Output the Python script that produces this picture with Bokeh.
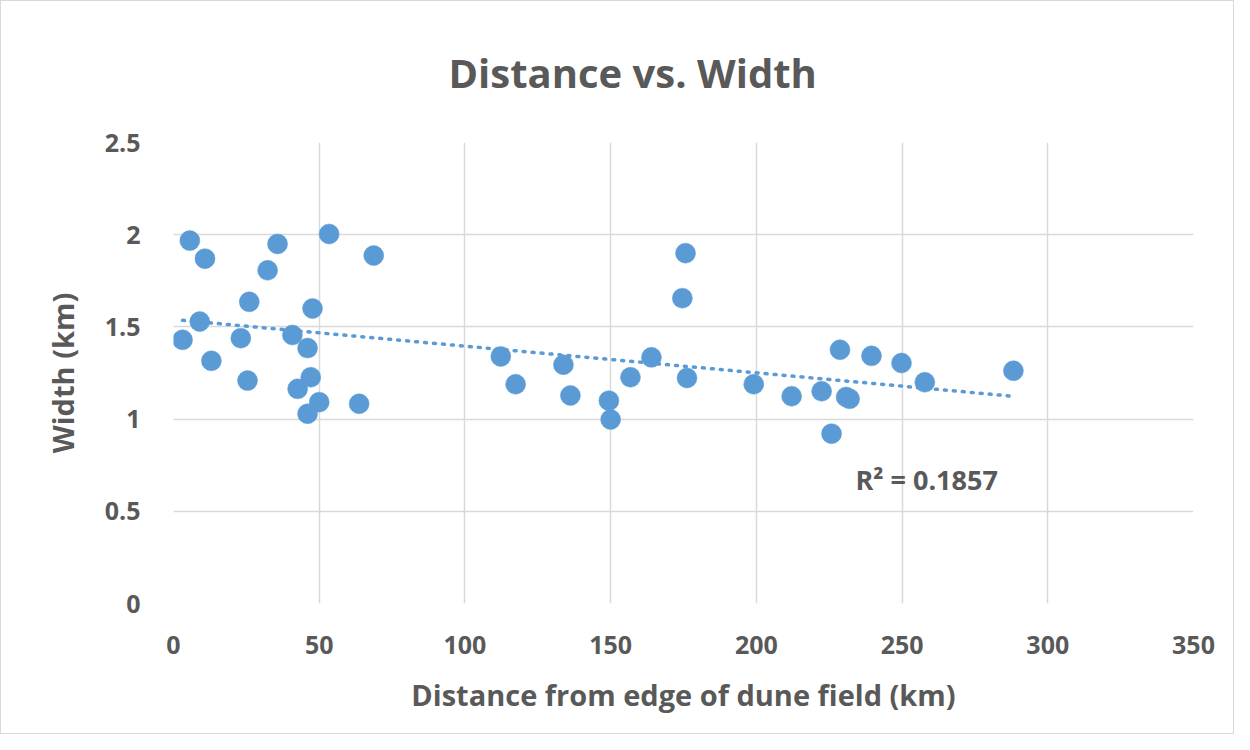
import numpy as np
from bokeh.plotting import figure
from bokeh.models import Label, FixedTicker, ColumnDataSource
from bokeh.embed import file_html
from bokeh.resources import INLINE

# Data
distance_km = [5.6, 10.8, 35.7, 53.4, 68.7, 32.3, 26.0, 47.7, 9.0, 3.1,
               23.1, 40.8, 46.0, 13.0, 25.4, 47.1, 42.6, 50.0, 63.7, 46.0,
               175.7, 174.6, 112.3, 117.4, 133.8, 136.2, 149.4, 150.0, 156.8, 164.0,
               176.2, 199.1, 212.1, 222.4, 228.7, 225.8, 230.8, 232.0, 239.5, 249.8,
               257.8, 288.2]
width_km = [1.968, 1.87, 1.95, 2.004, 1.887, 1.807, 1.636, 1.60, 1.529, 1.43,
            1.439, 1.456, 1.385, 1.316, 1.209, 1.227, 1.164, 1.092, 1.083, 1.029,
            1.90, 1.656, 1.34, 1.189, 1.295, 1.128, 1.10, 0.998, 1.227, 1.335,
            1.223, 1.189, 1.124, 1.151, 1.376, 0.921, 1.12, 1.11, 1.343, 1.304,
            1.20, 1.262]
x_ticks = [0, 50, 100, 150, 200, 250, 300, 350]
y_ticks = [0, 0.5, 1, 1.5, 2, 2.5]
y_tick_labels = ["0", "0.5", "1", "1.5", "2", "2.5"]
r2_text = "R² = 0.1857"

GRAY = "#595959"
BLUE = "#5b9bd5"
FONT = "Open Sans"

p = figure(width=1234, height=734, output_backend="svg", toolbar_location=None,
           x_range=(0, 350), y_range=(0, 2.5),
           min_border_left=172, min_border_right=42, min_border_top=138, min_border_bottom=132)
p.styles = {"border": "1px solid #d9d9d9"}

p.title.text = "Distance vs. Width"
p.title.align = "left"
p.title.offset = 275
p.title.vertical_align = "middle"
p.title.text_font = FONT
p.title.text_font_size = "40px"
p.title.text_font_style = "bold"
p.title.text_color = GRAY
p.title.standoff = 84

p.outline_line_color = None
p.border_fill_color = "white"

# trendline via least squares on the data
xs = np.array(distance_km)
ys = np.array(width_km)
m, b = np.polyfit(xs, ys, 1)
tx = [min(distance_km), max(distance_km)]
ty = [m * tx[0] + b, m * tx[1] + b]
p.line(tx, ty, line_color=BLUE, line_width=3.5, line_dash="2 7", line_cap="round")

src = ColumnDataSource(dict(x=distance_km, y=width_km))
p.scatter("x", "y", source=src, size=20, fill_color=BLUE, line_color=BLUE, line_width=0.5)

for ax in (p.xaxis[0], p.yaxis[0]):
    ax.axis_line_color = None
    ax.major_tick_line_color = None
    ax.minor_tick_line_color = None
    ax.major_label_text_font = FONT
    ax.major_label_text_font_size = "25px"
    ax.major_label_text_font_style = "bold"
    ax.major_label_text_color = GRAY
    ax.axis_label_text_font = FONT
    ax.axis_label_text_font_size = "29px"
    ax.axis_label_text_font_style = "bold"
    ax.axis_label_text_color = GRAY

p.xaxis.ticker = FixedTicker(ticks=x_ticks)
p.yaxis.ticker = FixedTicker(ticks=y_ticks)
p.yaxis.major_label_overrides = {t: l for t, l in zip(y_ticks, y_tick_labels)}
p.xaxis.major_label_standoff = 26
p.yaxis.major_label_standoff = 27
p.xaxis.axis_label = "Distance from edge of dune field (km)"
p.yaxis.axis_label = "Width (km)"
p.xaxis.axis_label_standoff = 18
p.yaxis.axis_label_standoff = 20

p.xgrid.ticker = FixedTicker(ticks=x_ticks)
p.ygrid.ticker = FixedTicker(ticks=y_ticks)
p.xgrid.grid_line_color = "#d9d9d9"
p.ygrid.grid_line_color = "#d9d9d9"
p.xgrid.grid_line_width = 1.5
p.ygrid.grid_line_width = 1.5

p.add_layout(Label(x=234, y=0.672, text=r2_text, text_font=FONT, text_font_size="27px",
                   text_font_style="bold", text_color=GRAY, text_baseline="middle"))

open("out.html", "w").write(file_html(p, INLINE))
